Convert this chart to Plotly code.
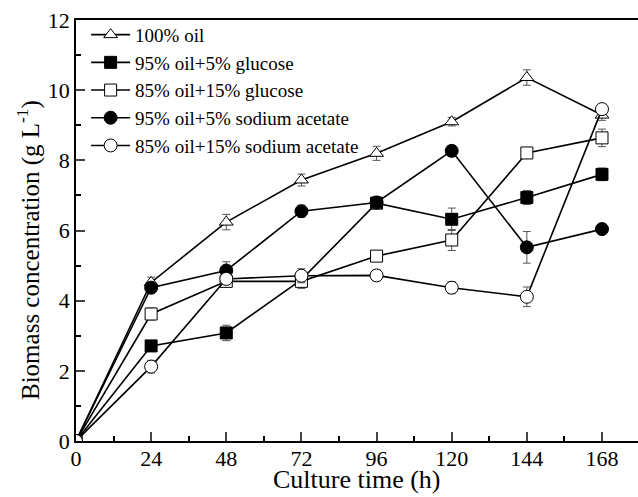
import plotly.graph_objects as go

time_h = [0, 24, 48, 72, 96, 120, 144, 168]

series_names = [
    "100% oil",
    "95% oil+5% glucose",
    "85% oil+15% glucose",
    "95% oil+5% sodium acetate",
    "85% oil+15% sodium acetate",
]

oil100 = [0, 4.52, 6.24, 7.44, 8.20, 9.10, 10.36, 9.29]
oil95_glc5 = [0, 2.71, 3.08, 4.60, 6.78, 6.32, 6.94, 7.60]
oil85_glc15 = [0, 3.62, 4.55, 4.55, 5.27, 5.73, 8.21, 8.64]
oil95_ace5 = [0, 4.37, 4.86, 6.55, 6.80, 8.27, 5.52, 6.04]
oil85_ace15 = [0, 2.12, 4.62, 4.71, 4.72, 4.37, 4.11, 9.46]

err100 = [0, 0.15, 0.22, 0.17, 0.20, 0.12, 0.22, 0.15]
err95_glc5 = [0, 0.15, 0.22, 0.15, 0.15, 0.32, 0.20, 0.18]
err85_glc15 = [0, 0.17, 0.12, 0.20, 0.15, 0.30, 0.15, 0.25]
err95_ace5 = [0, 0.15, 0.25, 0.17, 0.17, 0.15, 0.45, 0.15]
err85_ace15 = [0, 0.18, 0.15, 0.20, 0.15, 0.17, 0.28, 0.15]

x_title = "Culture time (h)"
y_title = "Biomass concentration (g L<sup>-1</sup>)"

values = [oil100, oil95_glc5, oil85_glc15, oil95_ace5, oil85_ace15]
errors = [err100, err95_glc5, err85_glc15, err95_ace5, err85_ace15]
symbols = ["triangle-up", "square", "square", "circle", "circle"]
fills = ["white", "black", "white", "black", "white"]
sizes = [12, 12, 12, 13, 13]

FONT = "'Liberation Serif', 'Times New Roman', Times, serif"

fig = go.Figure()
for name, y, e, sym, fc, sz in zip(series_names, values, errors, symbols, fills, sizes):
    fig.add_trace(go.Scatter(
        x=time_h, y=y, name=name, mode="lines+markers",
        line=dict(color="black", width=1.6),
        marker=dict(symbol=sym, size=sz, color=fc, line=dict(color="black", width=1)),
        error_y=dict(type="data", array=e, visible=True, color="#555555", thickness=1, width=4),
    ))

L, T, B = 76, 20, 56
W, H = 638, 497
plot_w = W - L
plot_h = H - T - B

fig.update_layout(
    width=W, height=H,
    margin=dict(l=L, r=0, t=T, b=B),
    paper_bgcolor="white", plot_bgcolor="white",
    font=dict(family=FONT, color="black"),
    showlegend=True,
    legend=dict(
        x=0.018, y=1.01, xanchor="left", yanchor="top",
        bgcolor="rgba(0,0,0,0)", font=dict(family=FONT, size=19),
        tracegroupgap=0, itemwidth=39,
    ),
    annotations=[
        dict(text=x_title, xref="paper", yref="paper",
             x=0.5, y=-(479 - (T + plot_h)) / plot_h,
             xanchor="center", yanchor="middle", showarrow=False,
             font=dict(family=FONT, size=26)),
        dict(text=y_title, xref="paper", yref="paper",
             x=-(L - 28) / plot_w, y=((T + plot_h) - 250) / plot_h,
             xanchor="center", yanchor="middle", showarrow=False, textangle=-90,
             font=dict(family=FONT, size=25)),
    ],
)

fig.update_xaxes(
    range=[0, 179.5], tickvals=time_h, ticks="inside", ticklen=9, tickwidth=1.5,
    showline=True, linecolor="black", linewidth=1.8, mirror=True,
    showgrid=False, zeroline=False, ticklabelstandoff=-3,
    tickfont=dict(family=FONT, size=22),
    minor=dict(dtick=12, tick0=0, ticks="inside", ticklen=5, tickwidth=1.5, tickcolor="black"),
)
fig.update_yaxes(
    range=[0, 12], dtick=2, ticks="inside", ticklen=9, tickwidth=1.5,
    showline=True, linecolor="black", linewidth=1.8, mirror=False,
    showgrid=False, zeroline=False,
    tickfont=dict(family=FONT, size=22),
    minor=dict(dtick=1, tick0=0, ticks="inside", ticklen=5, tickwidth=1.5, tickcolor="black"),
)

fig.write_html("out.html")
